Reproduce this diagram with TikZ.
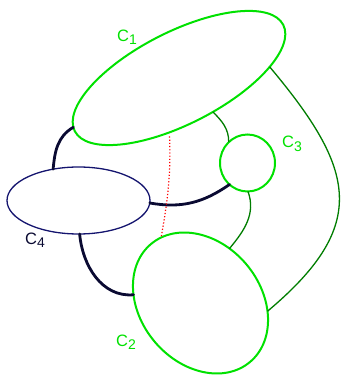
\documentclass[tikz,border=0pt]{standalone}
\usepackage{fontspec}
\setmainfont{Liberation Sans}
\usetikzlibrary{shapes.geometric}
\definecolor{lgreen}{RGB}{0,225,0}
\definecolor{dgreen}{RGB}{0,125,0}
\definecolor{navy}{RGB}{20,20,110}
\definecolor{ink}{RGB}{10,10,50}
\tikzstyle{greencurve} = [ellipse, draw=lgreen, line width=2pt, inner sep=0pt, outer sep=0pt]
\tikzstyle{bluecurve} = [ellipse, draw=navy, line width=1.3pt, inner sep=0pt, outer sep=0pt]
\tikzstyle{thicklink} = [draw=ink, line width=2.8pt, line cap=round]
\tikzstyle{thinlink} = [draw=dgreen, line width=1.3pt]
\tikzstyle{cutline} = [draw=red, dotted, line width=1.2pt]
\tikzstyle{curvelabel} = [inner sep=1pt, font=\fontsize{16.5}{16.5}\selectfont]
\newcommand{\clab}[1]{C\raisebox{-3.5pt}{\fontsize{14}{14}\selectfont #1}}

\begin{document}
\begin{tikzpicture}[x=1pt, y=1pt]
        \useasboundingbox (0,0) rectangle (348,375);

        \node (c1) [greencurve, minimum width=234pt, minimum height=92pt, rotate=27] at (179,297) {};
        \node (c3) [greencurve, minimum width=55pt, minimum height=57pt] at (247.5,212) {};
        \node (c4) [bluecurve, minimum width=143pt, minimum height=67pt] at (78.5,174.5) {};
        \node (c2) [greencurve, minimum width=154pt, minimum height=120pt, rotate=-50] at (200.5,72) {};

        \node (l1) [curvelabel, text=lgreen] at (127,338) {\clab{1}};
        \node (l3) [curvelabel, text=lgreen] at (292,231) {\clab{3}};
        \node (l4) [curvelabel, text=ink] at (35,135) {\clab{4}};
        \node (l2) [curvelabel, text=lgreen] at (126,33) {\clab{2}};

        \draw [thicklink] (c1.178) to[out=210, in=85] (c4.129);
        \draw [thicklink] (c4.272) to[out=-85, in=185] (c2.223);
        \draw [thicklink] (c4.358) to[out=-10, in=215] (c3.230);
        \draw [thinlink] (c1.288) to[out=-45, in=90] (c3.132);
        \draw [thinlink] (c3.271) to[out=-70, in=50] (c2.112);
        \draw [thinlink] (c1.340) to[out=-50, in=40, looseness=1.4] (c2.43);
        \draw [cutline, shorten <=4pt] (c1.233) to[out=-88, in=80] (c2.171);
\end{tikzpicture}
\end{document}
